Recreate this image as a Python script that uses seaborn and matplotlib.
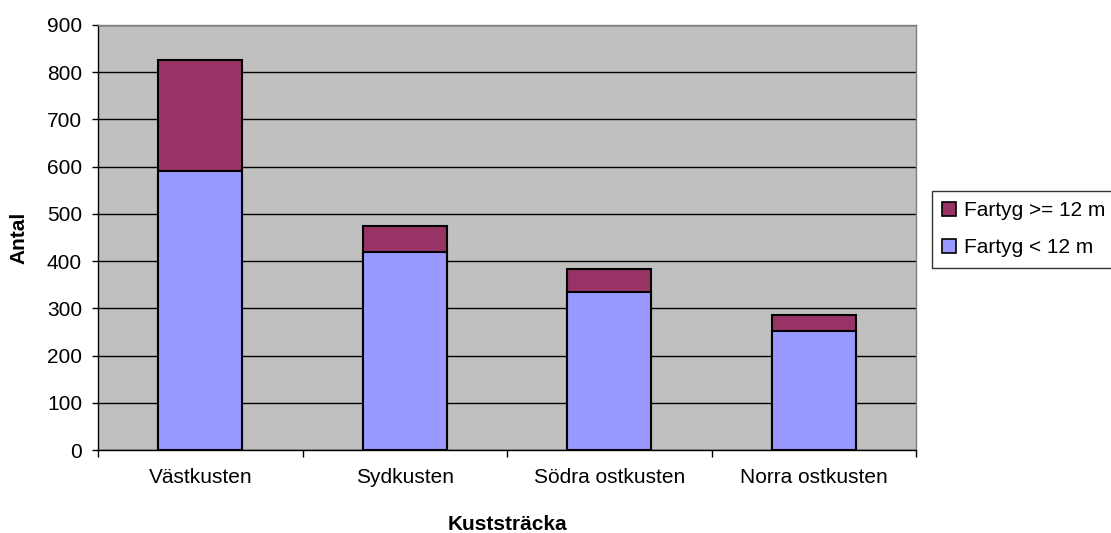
import matplotlib
matplotlib.use("Agg")
import matplotlib.pyplot as plt
import seaborn as sns
import pandas as pd
from matplotlib.patches import Patch
from matplotlib.ticker import MultipleLocator, FixedLocator

# data
kuststracka = ["Västkusten", "Sydkusten", "Södra ostkusten", "Norra ostkusten"]
fartyg_under_12 = [590, 420, 335, 253]
fartyg_over_12 = [235, 55, 48, 32]

BLUE = "#9999FF"
PLUM = "#993366"
BG = "#C0C0C0"
FS = 15


def main():
    sns.set_style("white")
    plt.rcParams["font.family"] = ["Liberation Sans", "DejaVu Sans"]
    plt.rcParams["text.color"] = "black"
    plt.rcParams["axes.labelcolor"] = "black"
    plt.rcParams["xtick.color"] = "black"
    plt.rcParams["ytick.color"] = "black"

    df = pd.DataFrame({
        "kuststracka": kuststracka,
        "under": fartyg_under_12,
        "over": fartyg_over_12,
    })
    df["total"] = df["under"] + df["over"]

    fig = plt.figure(figsize=(11.11, 5.33), dpi=100)
    ax = fig.add_axes([98 / 1111, 83 / 533, 818 / 1111, 425 / 533])
    ax.set_facecolor(BG)

    # stacked: total bar first, lower segment drawn over it
    sns.barplot(data=df, x="kuststracka", y="total", color=PLUM, width=0.41,
                edgecolor="black", linewidth=1.5, saturation=1, ax=ax, zorder=3)
    sns.barplot(data=df, x="kuststracka", y="under", color=BLUE, width=0.41,
                edgecolor="black", linewidth=1.5, saturation=1, ax=ax, zorder=4)

    ax.set_xlim(-0.5, 3.5)
    ax.set_ylim(0, 900)
    ax.yaxis.set_major_locator(MultipleLocator(100))
    ax.yaxis.grid(True, color="black", linewidth=1)
    ax.set_axisbelow(True)

    ax.tick_params(axis="x", which="major", length=0, pad=13, labelsize=FS)
    ax.xaxis.set_minor_locator(FixedLocator([-0.5, 0.5, 1.5, 2.5, 3.5]))
    ax.tick_params(axis="x", which="minor", length=5, width=1, direction="out",
                   bottom=True, color="black")
    ax.tick_params(axis="y", length=4.5, width=1, direction="out", left=True,
                   pad=7, labelsize=FS, color="black")

    for side in ["top", "right"]:
        ax.spines[side].set_color("#808080")
        ax.spines[side].set_linewidth(1)
    for side in ["left", "bottom"]:
        ax.spines[side].set_color("black")
        ax.spines[side].set_linewidth(1)

    ax.set_xlabel("Kuststräcka", fontsize=FS, fontweight="bold")
    ax.set_ylabel("Antal", fontsize=FS, fontweight="bold")
    ax.xaxis.set_label_coords(0.5, -0.152)
    ax.yaxis.set_label_coords(-0.085, 0.5)

    handles = [
        Patch(facecolor=PLUM, edgecolor="black", linewidth=1.2, label="Fartyg >= 12 m"),
        Patch(facecolor=BLUE, edgecolor="black", linewidth=1.2, label="Fartyg < 12 m"),
    ]
    leg = fig.legend(handles=handles, loc="upper left",
                     bbox_to_anchor=(932 / 1111, 1 - 191 / 533),
                     frameon=True, fancybox=False, fontsize=FS,
                     handlelength=0.67, handleheight=0.67, handletextpad=0.35,
                     borderpad=0.5, labelspacing=0.85, borderaxespad=0)
    leg.get_frame().set_edgecolor("black")
    leg.get_frame().set_linewidth(1)

    fig.savefig("out.png", dpi=100)
    plt.close(fig)


if __name__ == "__main__":
    main()
